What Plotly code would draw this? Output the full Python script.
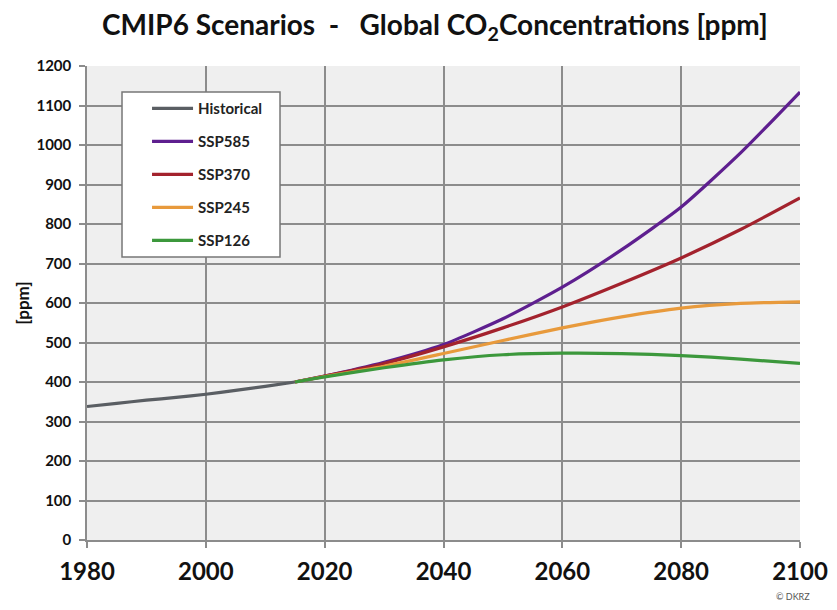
import plotly.graph_objects as go

# ---- data ----
hist_years = [1980, 1985, 1990, 1995, 2000, 2005, 2010, 2015]
hist_ppm = [338, 346, 354, 361, 369, 379, 389, 400]

ssp_years = [2015, 2020, 2030, 2040, 2050, 2060, 2070, 2080, 2090, 2100]
ssp585 = [400, 415, 450, 495, 560, 640, 735, 843, 980, 1134]
ssp370 = [400, 415, 447, 489, 537, 590, 650, 714, 786, 866]
ssp245 = [400, 414, 440, 472, 505, 537, 565, 587, 599, 603]
ssp126 = [400, 413, 436, 456, 469, 473, 472, 467, 458, 447]

x_ticks = [1980, 2000, 2020, 2040, 2060, 2080, 2100]
y_ticks = list(range(0, 1201, 100))

FONT = "Lato, Open Sans, sans-serif"
GRID = "#8c8c8c"

fig = go.Figure()
series = [
    ("Historical", hist_years, hist_ppm, "#5a5e63"),
    ("SSP585", ssp_years, ssp585, "#5e1f8f"),
    ("SSP370", ssp_years, ssp370, "#a3222d"),
    ("SSP245", ssp_years, ssp245, "#e89a3c"),
    ("SSP126", ssp_years, ssp126, "#3c983c"),
]
for name, xs, ys, col in series:
    fig.add_trace(go.Scatter(
        x=xs, y=ys, mode="lines", name=name, legendgroup=name,
        line=dict(color=col, width=3.2, shape="spline", smoothing=0.6),
    ))

# legend frame (white box with grey border)
fig.add_shape(
    type="rect", xref="paper", yref="paper",
    x0=0.0491, x1=0.2707, y0=0.597, y1=0.9451,
    fillcolor="white", line=dict(color="#777777", width=1.5), layer="above",
)

fig.update_layout(
    width=821, height=594,
    margin=dict(l=79, r=29, t=58, b=62, autoexpand=False),
    paper_bgcolor="white",
    plot_bgcolor="#efefef",
    font=dict(family=FONT, color="#1a1a1a"),
    title=dict(
        text="<b>CMIP6 Scenarios  -   Global CO<sub>2</sub>Concentrations [ppm]</b>",
        x=0.52, xanchor="center", y=0.971, yanchor="middle",
        font=dict(size=28, family=FONT, color="#111111"),
    ),
    showlegend=True,
    legend=dict(
        x=0.0842, y=0.945, xanchor="left", yanchor="top",
        bgcolor="rgba(0,0,0,0)", borderwidth=0,
        font=dict(size=15, family=FONT, color="#222222", weight="bold"),
        tracegroupgap=10.5, itemwidth=41,
    ),
)
fig.update_xaxes(
    range=[1980, 2100], tickvals=x_ticks,
    ticktext=[f"<b>{t}</b>" for t in x_ticks],
    tickfont=dict(size=24, family=FONT, color="#111111"),
    showgrid=True, gridcolor=GRID, gridwidth=1.5,
    showline=True, linecolor=GRID, linewidth=1.5,
    ticks="outside", ticklen=6, tickcolor=GRID, tickwidth=1.5,
    ticklabelstandoff=3,
    zeroline=False, automargin=False,
)
fig.update_yaxes(
    range=[0, 1200], tickvals=y_ticks,
    ticktext=[f"<b>{t}</b>" for t in y_ticks],
    tickfont=dict(size=15, family=FONT, color="#111111"),
    showgrid=True, gridcolor=GRID, gridwidth=1.5,
    showline=True, linecolor=GRID, linewidth=1.5,
    ticks="outside", ticklen=6, tickcolor=GRID, tickwidth=1.5,
    ticklabelstandoff=5,
    zeroline=False, automargin=False,
    title=dict(text="<b>[ppm]</b>", font=dict(size=17, family=FONT, color="#111111"), standoff=2),
)
fig.add_annotation(
    text="© DKRZ", xref="paper", yref="paper", x=1.017, y=-0.12,
    xanchor="right", yanchor="middle", showarrow=False,
    font=dict(size=9, family=FONT, color="#555555"),
)
fig.write_html("out.html")
